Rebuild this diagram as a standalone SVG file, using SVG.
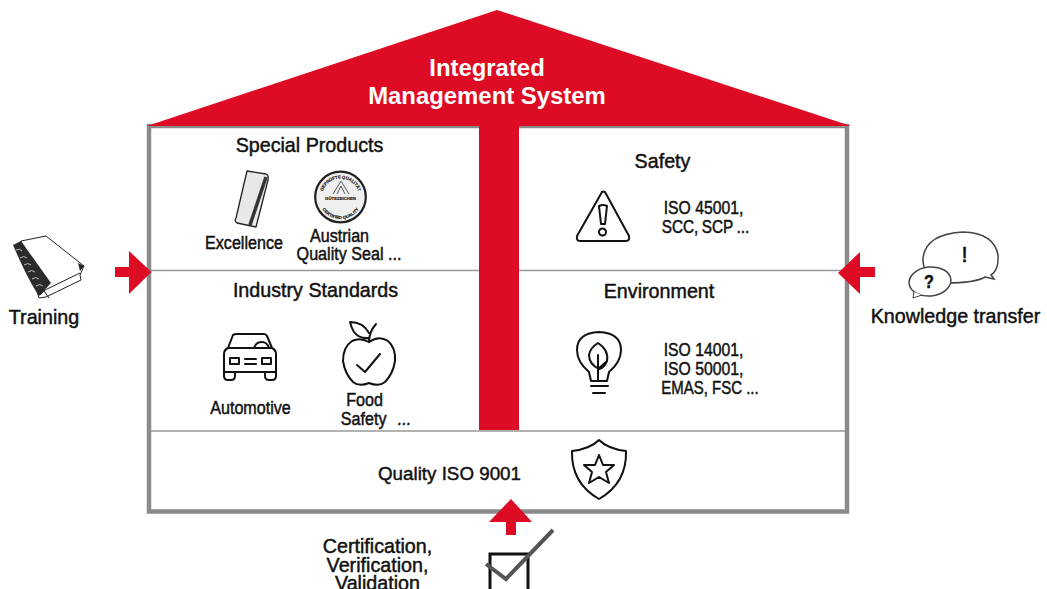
<svg xmlns="http://www.w3.org/2000/svg" xmlns:xlink="http://www.w3.org/1999/xlink" width="1047" height="589" viewBox="0 0 1047 589">
<style>
text{font-family:"Liberation Sans",Arial,sans-serif;fill:#111;stroke:#111;stroke-width:.45px;text-anchor:middle}
.h{font-size:19.700px}
.c{font-size:19.200px;stroke-width:.5px}
.w{fill:#fff;stroke:#fff;font-size:23.900px;font-weight:700;stroke-width:0}
.i{fill:none;stroke:#111;stroke-width:2;stroke-linecap:round;stroke-linejoin:round}
.r{fill:#dd0c24}
.l{stroke:#999;stroke-width:1.300;fill:none}
.s{font-size:4.300px;stroke-width:.15px;font-weight:700}
</style>
<defs>
<path id="sealTop" d="M322 197a18.500 18.500 0 1 1 37 0"/>
<path id="sealBot" d="M318.500 197a22 22 0 0 0 44 0"/>
</defs>
<rect width="1047" height="589" fill="#fff"/>

<g id="house">
<rect x="149" y="126" width="698" height="385.500" fill="#fff" stroke="#8a8a8a" stroke-width="4.500"/>
<path class="l" d="M151 270.500H845M151 431H845"/>
<rect class="r" x="479" y="120" width="40" height="310"/>
<polygon class="r" points="147,126 497,10 851,126"/>
<text class="w" x="487" y="75.500">Integrated</text>
<text class="w" x="487" y="104">Management System</text>
</g>

<g id="special-products">
<text class="h" x="309.500" y="152">Special Products</text>
<g id="excellence">
<path d="M247 171L266 174Q269 175 268 180L256 227L237 223Q234 221 236 218Z" fill="#e8e8e8" stroke="#222" stroke-width="1.300" stroke-linejoin="round"/>
<path d="M266 177L250 225" stroke="#333" stroke-width="3.500" fill="none"/>
<text class="c" transform="translate(244 248.500) scale(.84 1)">Excellence</text>
</g>
<g id="austrian-seal">
<circle cx="340.500" cy="197" r="25.300" fill="#efefef" stroke="#222" stroke-width="2.200"/>
<text class="s"><textPath xlink:href="#sealTop" startOffset="50%">GEPRÜFTE QUALITÄT</textPath></text>
<text class="s"><textPath xlink:href="#sealBot" startOffset="50%">CERTIFIED QUALITY</textPath></text>
<path d="M333 194L341 181L349 194M337 194L341 186L345 194" fill="none" stroke="#444" stroke-width=".9"/>
<text x="340.500" y="199.500" class="s">GÜTEZEICHEN</text>
<text class="c" transform="translate(339.500 242) scale(.84 1)">Austrian</text>
<text class="c" transform="translate(349 260) scale(.84 1)">Quality Seal ...</text>
</g>
</g>

<g id="industry-standards">
<text class="h" x="315.500" y="297">Industry Standards</text>
<g id="automotive">
<path class="i" d="M224 354Q224 350 228 348L233 335Q234 334 237 334H264Q266 334 267 336L272 348Q276 350 276 354V372H224Z"/>
<path class="i" d="M229 348H271M254 348Q256 342 262 342Q267 342 269 348"/>
<rect class="i" x="230" y="358" width="9" height="6"/><rect class="i" x="262" y="358" width="9" height="6"/>
<path class="i" d="M245 359H256M245 364H256M224 372V376Q224 380 228 380H231Q235 380 235 376V372M265 372V376Q265 380 269 380H272Q276 380 276 376V372"/>
<text class="c" transform="translate(250.500 413.500) scale(.84 1)">Automotive</text>
</g>
<g id="food-safety">
<path class="i" d="M369 342Q379 335 388 341Q396 348 395 361Q393 374 385 382Q379 387 369 383Q359 387 353 382Q345 374 343 361Q343 347 352 341Q360 337 369 342Z"/>
<path class="i" d="M369 342Q369 332 376 324M369 338Q359 339 354 332Q351 327 350 322Q363 322 369 333"/>
<path class="i" d="M357 365L365 372L380 354"/>
<text class="c" transform="translate(364.500 406) scale(.84 1)">Food</text>
<text class="c" transform="translate(376 425) scale(.84 1)">Safety<tspan dx="8" font-style="italic"> ...</tspan></text>
</g>
</g>

<g id="safety">
<text class="h" x="662.500" y="167.500">Safety</text>
<path class="i" d="M602 192Q603 191 605 192L629 236Q630 241 626 241H580Q576 241 577 236Z"/>
<path class="i" d="M599 206Q603 204 607 206L605 224H601Z"/><circle class="i" cx="602.500" cy="232" r="3.500"/>
<text class="c" transform="translate(703.500 214) scale(.82 1)">ISO 45001,</text>
<text class="c" transform="translate(705.500 233) scale(.8 1)" word-spacing="-1">SCC, SCP ...</text>
</g>

<g id="environment">
<text class="h" x="659" y="298">Environment</text>
<path class="i" d="M591 381L589 372Q577 362 577 350Q577 333 599 332Q621 333 621 350Q621 362 609 372L607 381Z"/>
<path class="i" d="M598 343Q609 350 607 361Q604 368 599 369Q589 364 589 355Q590 348 598 343ZM598 381V355M598 369L606 362"/>
<path class="i" d="M591 386H608M593 393H605"/>
<text class="c" transform="translate(703.500 356) scale(.82 1)">ISO 14001,</text>
<text class="c" transform="translate(703.500 375) scale(.82 1)">ISO 50001,</text>
<text class="c" transform="translate(710 394) scale(.78 1)">EMAS, FSC ...</text>
</g>

<g id="quality">
<text class="h" x="449.500" y="480" style="font-size:18.800px">Quality ISO 9001</text>
<path class="i" d="M599 440Q608 449 626 451Q627 483 599 499Q571 483 572 451Q590 449 599 440Z"/>
<path class="i" d="M599 455L603 465L614 465L606 472L609 483L599 477L589 483L592 472L584 465L595 465Z"/>
</g>

<g id="connectors">
<polygon class="r" points="115,267 129,267 129,251 151.500,272 129,294 129,277 115,277"/>
<polygon class="r" points="875,267 860,267 860,252 838,273 860,294 860,277 875,277"/>
<polygon class="r" points="511,499 532,522 516,522 516,535 506,535 506,522 489,522"/>
</g>

<g id="training">
<path d="M21 241L46 236L84 266L80 275L81 280L46 297L39 298Z" fill="#fff" stroke="#222" stroke-width="1"/>
<path d="M13 245L21 241L51 283L39 296Q28 280 13 245Z" fill="#2b2b2b"/>
<path d="M78 263L84 266L80 271Z" fill="#222"/>
<path d="M16 250Q20 248 22 251M20 258Q24 255 27 258M24 265Q28 262 31 265M28 272Q32 269 35 272M32 279Q36 276 39 279M36 286Q40 283 43 286" stroke="#bbb" stroke-width="1" fill="none"/>
<path d="M44 291L49 298M40 295L45 290L80 273" stroke="#222" stroke-width="1" fill="none"/>
<text class="h" x="44" y="323.500">Training</text>
</g>

<g id="knowledge-transfer">
<path d="M946 283Q922 277 923 258Q926 234 963 232Q994 233 998 255Q999 270 991 275L994 279L985 277Q975 283 946 283Z" fill="#fff" stroke="#444" stroke-width="1.500"/>
<ellipse cx="930" cy="281.500" rx="21" ry="14.500" transform="rotate(-6 930 281.500)" fill="#fff" stroke="#444" stroke-width="1.500"/>
<path d="M914 292L913 298L922 295" fill="#fff" stroke="#444" stroke-width="1"/>
<text x="964.500" y="262" style="font-size:22px;font-weight:400;stroke-width:.6px">!</text>
<text x="929" y="288" style="font-size:18px;font-weight:700" transform="translate(92.900 0) scale(.9 1)">?</text>
<text class="h" x="955.500" y="322.500">Knowledge transfer</text>
</g>

<g id="certification">
<text class="h" x="377.500" y="552.500">Certification,</text>
<text class="h" x="377.500" y="571.500">Verification,</text>
<text class="h" x="377.500" y="590">Validation</text>
<path d="M490 589V554H528V589" fill="none" stroke="#111" stroke-width="3"/>
<path d="M486 564L506 579L553 530" fill="none" stroke="#555" stroke-width="4"/>
</g>
</svg>
